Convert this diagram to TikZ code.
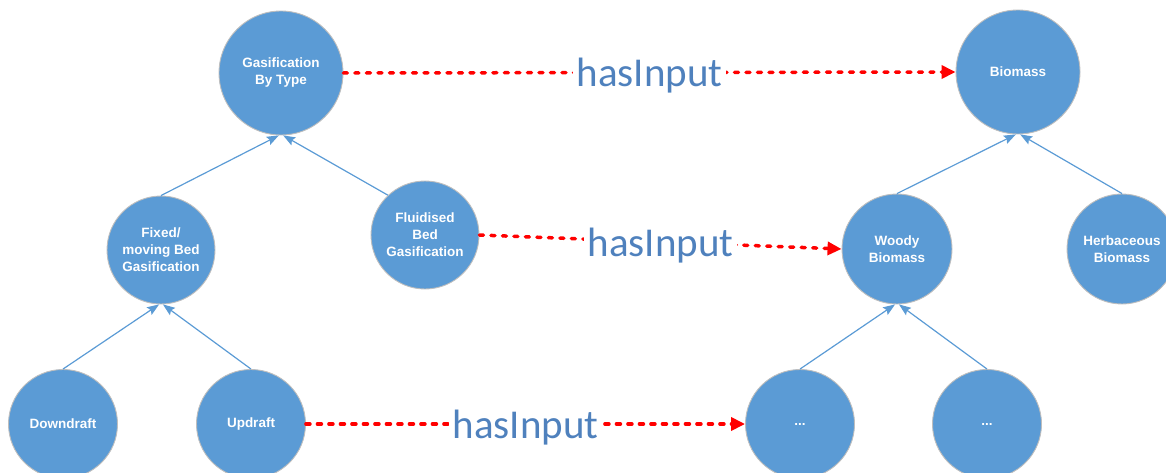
\documentclass[tikz,border=0pt]{standalone}
\usepackage{fontspec}
\setmainfont{Liberation Sans}
\newfontfamily\labelfont{Carlito}
\usetikzlibrary{arrows.meta}
\definecolor{circfill}{RGB}{91,155,213}
\definecolor{circedge}{RGB}{190,190,190}
\definecolor{edgeblue}{RGB}{91,155,213}
\definecolor{lblblue}{RGB}{79,129,189}
\definecolor{relred}{RGB}{255,0,0}
\tikzset{
  concept/.style={circle, fill=circfill, draw=circedge, line width=0.9pt,
    inner sep=0pt, text=white, align=center,
    font=\fontsize{13.5}{17}\selectfont\bfseries},
  isa/.style={draw=edgeblue, line width=1.2pt,
    -{Stealth[length=12pt,width=9pt,inset=2pt]}},
  rel/.style={draw=relred, line width=3.5pt, line cap=round,
    dash pattern=on 4pt off 7.5pt,
    -{Triangle[length=14pt,width=13pt,line cap=butt]}},
  rellabel/.style={fill=white, text=lblblue, inner xsep=4pt, inner ysep=0pt,
    text depth=0pt, font=\labelfont\fontsize{41}{41}\selectfont}
}
\begin{document}
\begin{tikzpicture}[x=1pt,y=-1pt]
\useasboundingbox (0,0) rectangle (1166,473);
% nodes
\node[concept, minimum size=124pt] (gbt) at (281,73) {Gasification\\By Type};
\node[concept, minimum size=124pt] (bio) at (1018,72) {Biomass};
\node[concept, minimum size=108pt] (fixed) at (161,250) {Fixed/\\moving Bed\\Gasification};
\node[concept, minimum size=108pt] (fluid) at (425,235) {Fluidised\\Bed\\Gasification};
\node[concept, minimum size=110pt] (woody) at (897,249) {Woody\\Biomass};
\node[concept, minimum size=110pt] (herb) at (1122,249) {Herbaceous\\Biomass};
\node[concept, minimum size=109pt] (down) at (63,424) {Downdraft};
\node[concept, minimum size=109pt] (up) at (251,424) {Updraft};
\node[concept, minimum size=109pt] (d1) at (800,424) {...};
\node[concept, minimum size=109pt] (d2) at (987,424) {...};
% taxonomy edges
\draw[isa] (fixed.north) -- (gbt.268);
\draw[isa] (fluid.133) -- (gbt.272);
\draw[isa] (woody.north) -- (bio.268);
\draw[isa] (herb.north) -- (bio.272);
\draw[isa] (down.north) -- (fixed.268);
\draw[isa] (up.north) -- (fixed.272);
\draw[isa] (d1.north) -- (woody.268);
\draw[isa] (d2.north) -- (woody.272);
% relations
\draw[rel] (gbt.east) -- node[rellabel] {hasInput} (bio.west);
\draw[rel] (fluid.east) -- node[rellabel] {hasInput} (woody.west);
\draw[rel] (up.east) -- node[rellabel] {hasInput} (d1.west);
\end{tikzpicture}
\end{document}
